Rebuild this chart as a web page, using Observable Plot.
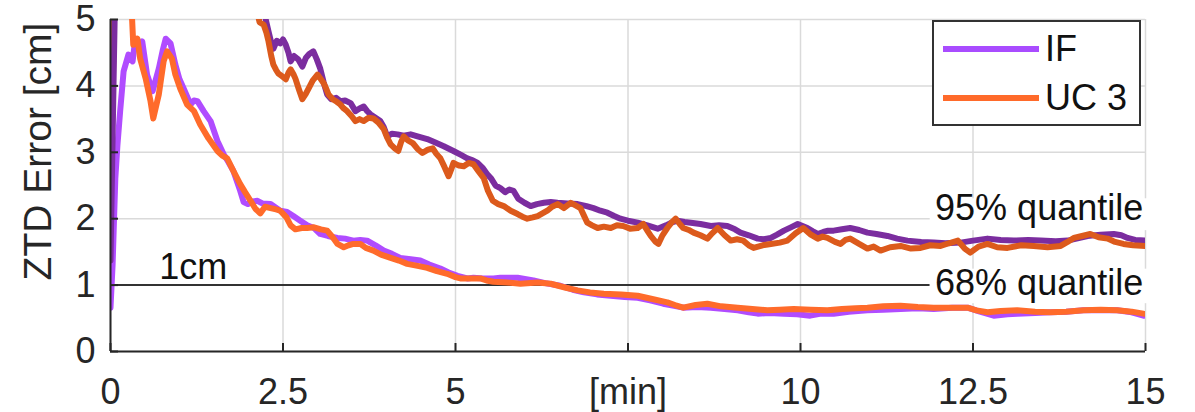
<!DOCTYPE html>
<html>
<head>
<meta charset="utf-8">
<script src="https://cdn.jsdelivr.net/npm/d3@7"></script>
<script src="https://cdn.jsdelivr.net/npm/@observablehq/plot@0.6"></script>
<style>
  html, body { margin: 0; padding: 0; background: white; }
  #wrap { position: relative; width: 1195px; height: 412px; font-family: "Liberation Sans", Arial, sans-serif; }
  #legend { position: absolute; left: 932px; top: 20px; width: 209px; height: 106px; box-sizing: border-box;
            border: 2px solid #333; background: white; }
  .lrow { position: absolute; left: 0; height: 40px; width: 100%; }
  .lline { position: absolute; left: 9px; width: 96px; height: 6px; top: 17px; }
  .ltext { position: absolute; left: 111px; top: 0; font-size: 36px; line-height: 40px; color: #111; }
</style>
</head>
<body>
<div id="wrap"></div>
<script>
// ---- data (minutes, ZTD error in cm) ----
const if68 = [[0,0.66],[0.03,1.3],[0.07,2.61],[0.1,3.1],[0.14,3.62],[0.19,4.22],[0.26,4.47],[0.32,4.37],[0.36,4.71],[0.41,4.56],[0.46,4.67],[0.53,4.17],[0.61,3.92],[0.70,4.26],[0.76,4.55],[0.80,4.71],[0.87,4.64],[0.94,4.32],[1.0,4.1],[1.06,3.96],[1.16,3.72],[1.21,3.78],[1.26,3.77],[1.35,3.62],[1.45,3.47],[1.55,3.17],[1.64,2.97],[1.71,2.85],[1.78,2.72],[1.88,2.42],[1.93,2.25],[1.99,2.22],[2.06,2.26],[2.13,2.27],[2.2,2.23],[2.32,2.22],[2.46,2.12],[2.56,2.1],[2.65,2.04],[2.75,1.97],[2.85,1.9],[2.95,1.86],[3.04,1.77],[3.15,1.74],[3.29,1.71],[3.4,1.7],[3.52,1.67],[3.62,1.68],[3.72,1.67],[3.84,1.6],[3.96,1.52],[4.08,1.47],[4.20,1.41],[4.35,1.39],[4.49,1.37],[4.62,1.31],[4.78,1.25],[4.9,1.19],[5.03,1.14],[5.17,1.10],[5.26,1.11],[5.4,1.1],[5.55,1.10],[5.65,1.11],[5.9,1.11],[6.13,1.07],[6.3,1.03],[6.52,0.99],[6.7,0.93],[6.86,0.89],[7.05,0.86],[7.25,0.84],[7.45,0.82],[7.64,0.81],[7.82,0.77],[8.01,0.72],[8.15,0.69],[8.30,0.66],[8.5,0.67],[8.70,0.66],[8.9,0.64],[9.09,0.62],[9.25,0.59],[9.38,0.57],[9.55,0.58],[9.76,0.57],[9.95,0.56],[10.14,0.54],[10.3,0.57],[10.48,0.57],[10.7,0.6],[10.97,0.62],[11.2,0.63],[11.45,0.64],[11.7,0.65],[11.93,0.64],[12.2,0.66],[12.42,0.66],[12.6,0.6],[12.8,0.54],[13.0,0.56],[13.14,0.57],[13.4,0.58],[13.62,0.59],[13.85,0.6],[14.1,0.62],[14.35,0.62],[14.59,0.62],[14.8,0.59],[14.97,0.54]];

const uc68 = [[0,2.52],[0.03,3.8],[0.05,5.0],[0.08,5.3],[0.3,5.3],[0.33,4.62],[0.39,4.71],[0.43,4.41],[0.51,4.11],[0.58,3.77],[0.62,3.51],[0.70,3.87],[0.77,4.37],[0.82,4.52],[0.89,4.41],[0.94,4.17],[1.01,3.96],[1.11,3.72],[1.21,3.62],[1.30,3.42],[1.42,3.21],[1.55,3.02],[1.62,2.95],[1.69,2.91],[1.78,2.72],[1.88,2.52],[1.95,2.4],[2.03,2.27],[2.1,2.15],[2.17,2.08],[2.24,2.18],[2.32,2.16],[2.4,2.14],[2.46,2.12],[2.55,2.02],[2.61,1.9],[2.68,1.84],[2.77,1.86],[2.85,1.86],[2.95,1.87],[3.05,1.84],[3.14,1.82],[3.22,1.72],[3.29,1.62],[3.38,1.57],[3.45,1.6],[3.52,1.62],[3.62,1.62],[3.7,1.56],[3.81,1.52],[3.92,1.46],[4.06,1.41],[4.18,1.37],[4.30,1.32],[4.45,1.29],[4.59,1.26],[4.73,1.21],[4.88,1.17],[5.0,1.12],[5.07,1.10],[5.2,1.1],[5.36,1.10],[5.45,1.07],[5.55,1.05],[5.75,1.04],[5.94,1.02],[6.19,1.04],[6.38,1.02],[6.6,0.96],[6.77,0.92],[6.95,0.89],[7.15,0.87],[7.4,0.86],[7.64,0.84],[7.85,0.79],[8.07,0.74],[8.18,0.7],[8.30,0.66],[8.48,0.7],[8.65,0.72],[8.85,0.68],[9.09,0.66],[9.3,0.64],[9.52,0.62],[9.7,0.63],[9.9,0.64],[10.15,0.63],[10.39,0.62],[10.6,0.64],[10.8,0.65],[10.97,0.66],[11.2,0.68],[11.45,0.69],[11.7,0.67],[11.93,0.66],[12.2,0.66],[12.42,0.66],[12.55,0.62],[12.71,0.59],[12.9,0.61],[13.14,0.62],[13.4,0.6],[13.62,0.59],[13.85,0.6],[14.1,0.62],[14.35,0.63],[14.59,0.62],[14.8,0.6],[14.97,0.57]];

const if95 = [[0,1.37],[0.03,3.2],[0.06,5.0],[0.08,5.6],[2.2,5.6],[2.25,5.0],[2.29,4.82],[2.33,4.65],[2.36,4.56],[2.41,4.68],[2.46,4.64],[2.5,4.7],[2.54,4.62],[2.58,4.5],[2.61,4.37],[2.66,4.45],[2.72,4.40],[2.78,4.29],[2.83,4.42],[2.88,4.48],[2.94,4.52],[2.99,4.4],[3.04,4.26],[3.09,4.05],[3.14,3.87],[3.2,3.8],[3.27,3.82],[3.33,3.77],[3.4,3.78],[3.48,3.74],[3.55,3.62],[3.61,3.66],[3.67,3.69],[3.72,3.62],[3.77,3.57],[3.84,3.52],[3.91,3.47],[3.96,3.38],[4.01,3.24],[4.08,3.28],[4.16,3.27],[4.25,3.25],[4.35,3.27],[4.45,3.24],[4.59,3.20],[4.7,3.15],[4.83,3.09],[4.97,3.02],[5.08,2.96],[5.17,2.91],[5.25,2.88],[5.32,2.84],[5.39,2.77],[5.46,2.67],[5.52,2.6],[5.58,2.5],[5.65,2.46],[5.72,2.4],[5.78,2.44],[5.84,2.42],[5.91,2.3],[6.0,2.24],[6.09,2.19],[6.18,2.22],[6.28,2.24],[6.38,2.25],[6.48,2.24],[6.62,2.23],[6.77,2.22],[6.9,2.19],[7.0,2.16],[7.1,2.12],[7.2,2.09],[7.3,2.04],[7.39,2.0],[7.5,1.97],[7.64,1.94],[7.78,1.9],[7.93,1.85],[8.05,1.9],[8.15,1.95],[8.22,1.97],[8.32,1.95],[8.41,1.94],[8.55,1.92],[8.70,1.89],[8.82,1.9],[8.94,1.89],[9.05,1.84],[9.13,1.79],[9.25,1.75],[9.38,1.70],[9.47,1.69],[9.57,1.71],[9.66,1.76],[9.76,1.82],[9.86,1.87],[9.96,1.92],[10.03,1.89],[10.1,1.86],[10.18,1.81],[10.25,1.77],[10.33,1.8],[10.4,1.82],[10.48,1.82],[10.6,1.84],[10.72,1.86],[10.85,1.83],[10.97,1.79],[11.1,1.77],[11.26,1.74],[11.4,1.7],[11.55,1.67],[11.75,1.65],[11.93,1.64],[12.1,1.63],[12.32,1.64],[12.5,1.67],[12.71,1.70],[12.9,1.68],[13.09,1.67],[13.3,1.68],[13.48,1.67],[13.7,1.66],[13.87,1.67],[14.0,1.7],[14.16,1.74],[14.35,1.76],[14.54,1.77],[14.65,1.75],[14.74,1.71],[14.85,1.68],[15,1.67]];

const uc95 = [[2.13,5.1],[2.16,4.96],[2.22,4.92],[2.26,4.8],[2.29,4.67],[2.33,4.45],[2.36,4.32],[2.4,4.24],[2.43,4.19],[2.48,4.15],[2.54,4.10],[2.58,4.2],[2.61,4.25],[2.65,4.18],[2.68,4.11],[2.73,3.95],[2.78,3.80],[2.83,3.88],[2.87,3.96],[2.93,4.08],[3.0,4.17],[3.05,4.1],[3.09,4.04],[3.13,3.95],[3.16,3.87],[3.22,3.8],[3.28,3.76],[3.33,3.72],[3.38,3.66],[3.43,3.62],[3.49,3.55],[3.55,3.47],[3.61,3.5],[3.67,3.47],[3.74,3.52],[3.81,3.51],[3.88,3.45],[3.96,3.35],[4.01,3.22],[4.06,3.12],[4.12,3.06],[4.17,3.02],[4.21,3.15],[4.25,3.24],[4.31,3.18],[4.38,3.14],[4.45,3.05],[4.52,2.99],[4.6,3.04],[4.67,3.06],[4.72,2.98],[4.78,2.91],[4.84,2.78],[4.90,2.64],[4.94,2.75],[4.97,2.84],[5.05,2.8],[5.12,2.79],[5.19,2.84],[5.26,2.82],[5.33,2.72],[5.41,2.61],[5.47,2.42],[5.54,2.27],[5.62,2.22],[5.70,2.19],[5.8,2.12],[5.9,2.07],[5.97,2.03],[6.04,2.0],[6.12,2.02],[6.19,2.04],[6.26,2.08],[6.33,2.12],[6.4,2.18],[6.48,2.22],[6.57,2.16],[6.67,2.24],[6.74,2.2],[6.81,2.16],[6.86,2.05],[6.91,1.94],[6.98,1.9],[7.06,1.86],[7.15,1.88],[7.25,1.86],[7.34,1.9],[7.43,1.89],[7.53,1.85],[7.64,1.86],[7.72,1.92],[7.78,1.82],[7.83,1.74],[7.9,1.65],[7.94,1.62],[8.0,1.75],[8.07,1.86],[8.13,1.94],[8.19,2.0],[8.25,1.92],[8.3,1.86],[8.38,1.83],[8.45,1.79],[8.55,1.75],[8.65,1.70],[8.72,1.78],[8.80,1.86],[8.9,1.75],[8.99,1.67],[9.08,1.69],[9.17,1.67],[9.25,1.6],[9.32,1.56],[9.45,1.6],[9.57,1.62],[9.7,1.64],[9.81,1.67],[9.93,1.78],[10.04,1.86],[10.15,1.76],[10.25,1.70],[10.32,1.73],[10.39,1.71],[10.5,1.65],[10.58,1.62],[10.65,1.68],[10.72,1.70],[10.85,1.62],[10.97,1.55],[11.06,1.58],[11.16,1.52],[11.3,1.57],[11.45,1.59],[11.6,1.55],[11.74,1.56],[11.88,1.6],[12.03,1.59],[12.15,1.63],[12.28,1.67],[12.38,1.55],[12.46,1.49],[12.58,1.58],[12.71,1.62],[12.85,1.57],[13.0,1.56],[13.2,1.6],[13.38,1.59],[13.58,1.57],[13.77,1.59],[13.87,1.65],[13.96,1.71],[14.08,1.74],[14.2,1.77],[14.32,1.72],[14.45,1.70],[14.56,1.65],[14.68,1.62],[14.82,1.6],[15,1.59]];

const xTicks = [0, 2.5, 5, 7.5, 10, 12.5, 15];
const xTickLabels = ["0", "2.5", "5", "[min]", "10", "12.5", "15"];
const yTicks = [0, 1, 2, 3, 4, 5];
const yLabel = "ZTD Error [cm]";
const legendLabels = ["IF", "UC 3"];
const legendColors = ["#a94cff", "#ff6a2a"];
const seriesColors = {if68: "#b04cff", uc68: "#ff6b2b", if95: "#7b2d9f", uc95: "#dc5a1c"};
const refLine = {y: 1, label: "1cm", x: 1.2, xEnd: 11.88};
const annotations = [
  {label: "95% quantile", x: 11.95, y: 2.15, y1: 1.82, y2: 2.3},
  {label: "68% quantile", x: 11.95, y: 1.02, y1: 0.72, y2: 1.24}
];

// ---- build ----
const toRows = (arr) => arr.map(([t, v]) => ({t, v}));
const lineOpts = (color) => ({x: "t", y: "v", stroke: color, strokeWidth: 6, strokeLinejoin: "round", strokeLinecap: "round", clip: true});
const axisColor = "#262626";

const chart = Plot.plot({
  width: 1195,
  height: 412,
  marginLeft: 110,
  marginRight: 50,
  marginTop: 19,
  marginBottom: 61,
  x: {domain: [0, 15], label: null},
  y: {domain: [0, 5], label: null},
  style: {fontFamily: "'Liberation Sans', Arial, sans-serif", fontSize: "36px", background: "white", color: axisColor, overflow: "visible"},
  marks: [
    Plot.gridX(xTicks, {stroke: "#dadada", strokeOpacity: 1, strokeWidth: 1.5}),
    Plot.gridY(yTicks, {stroke: "#dadada", strokeOpacity: 1, strokeWidth: 1.5}),
    Plot.ruleY([refLine], {y: "y", x1: 0, x2: refLine.xEnd, stroke: "#333", strokeWidth: 2}),
    Plot.rect(annotations, {x1: (d) => d.x - 0.07, x2: 15.2, y1: "y1", y2: "y2", fill: "white"}),
    Plot.line(toRows(if68), lineOpts(seriesColors.if68)),
    Plot.line(toRows(uc68), lineOpts(seriesColors.uc68)),
    Plot.line(toRows(if95), lineOpts(seriesColors.if95)),
    Plot.line(toRows(uc95), lineOpts(seriesColors.uc95)),
    Plot.text([refLine], {x: "x", y: (d) => d.y + 0.27, text: "label", fontSize: 36, fill: "#111"}),
    Plot.text(annotations, {x: "x", y: "y", text: "label", textAnchor: "start", fontSize: 36, fill: "#111"}),
    Plot.ruleX([0], {stroke: axisColor, strokeWidth: 2}),
    Plot.ruleY([0], {stroke: axisColor, strokeWidth: 2}),
    Plot.tickX(xTicks, {x: (d) => d, insetTop: 324, stroke: axisColor, strokeWidth: 2}),
    Plot.tickY(yTicks, {y: (d) => d, insetRight: 1027, stroke: axisColor, strokeWidth: 2}),
    Plot.axisX(xTicks, {tickSize: 0, tickPadding: 27, fontSize: 36, tickFormat: (d) => xTickLabels[xTicks.indexOf(d)], fill: axisColor}),
    Plot.axisY(yTicks, {tickSize: 0, tickPadding: 15, fontSize: 36, tickFormat: (d) => String(d), fill: axisColor}),
    Plot.text([yLabel], {frameAnchor: "left", dx: -72, dy: -34, rotate: -90, textAnchor: "middle", lineAnchor: "middle", text: (d) => d, fontSize: 39, fill: axisColor})
  ]
});

const wrap = document.getElementById("wrap");
wrap.appendChild(chart);

// legend
const legend = document.createElement("div");
legend.id = "legend";
legendLabels.forEach((lab, i) => {
  const row = document.createElement("div");
  row.className = "lrow";
  row.style.top = (i === 0 ? 7 : 56) + "px";
  const ln = document.createElement("div");
  ln.className = "lline";
  ln.style.background = legendColors[i];
  const tx = document.createElement("div");
  tx.className = "ltext";
  tx.textContent = lab;
  row.appendChild(ln);
  row.appendChild(tx);
  legend.appendChild(row);
});
wrap.appendChild(legend);
</script>
</body>
</html>
